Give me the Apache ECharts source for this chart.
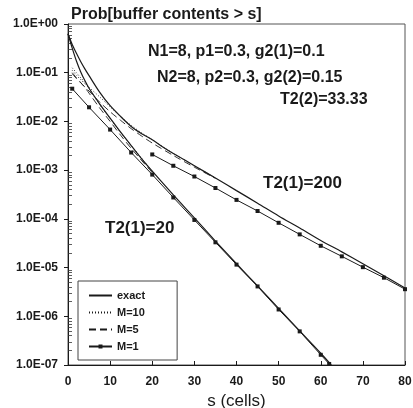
<!DOCTYPE html>
<html>
<head>
<meta charset="utf-8">
<script src="https://cdn.jsdelivr.net/npm/echarts@6/dist/echarts.min.js"></script>
<style>html,body{margin:0;padding:0;background:#fff;}#c{width:413px;height:408px;}</style>
</head>
<body>
<div id="c"></div>
<script>
// ---- data ----
var titleText = 'Prob[buffer contents > s]';
var xTicks = [0, 10, 20, 30, 40, 50, 60, 70, 80];
var yTicks = [1e0, 1e-1, 1e-2, 1e-3, 1e-4, 1e-5, 1e-6, 1e-7];
var yTickLabels = ['1.0E+00', '1.0E-01', '1.0E-02', '1.0E-03', '1.0E-04', '1.0E-05', '1.0E-06', '1.0E-07'];
var legendNames = ['exact', 'M=10', 'M=5', 'M=1'];

// T2(1)=200 group
var exactUx = [0, 1, 2, 3, 4, 5, 7.5, 10, 12.5, 15, 17.5, 20, 22.5, 25, 27.5, 30, 35, 40, 45, 50, 55, 60, 65, 70, 75, 80];
var exactUy = [0.63, 0.38, 0.25, 0.17, 0.12, 0.087, 0.040, 0.021, 0.0126, 0.0079, 0.0056, 0.0042, 0.0030, 0.0022, 0.00166, 0.00123, 6.9e-4, 3.8e-4, 2.1e-4, 1.15e-4, 6.5e-5, 3.6e-5, 2.1e-5, 1.2e-5, 6.8e-6, 3.8e-6];
var m10Ux = [1, 2, 3, 5, 7.5, 10, 12.5, 15, 17.5, 20, 25, 30, 35];
var m10Uy = [0.112, 0.089, 0.072, 0.050, 0.032, 0.020, 0.0126, 0.0083, 0.0058, 0.0042, 0.0022, 0.00123, 6.9e-4];
var m5Ux = [1, 2, 3, 5, 7.5, 10, 12.5, 15, 17.5, 20, 25, 30, 35];
var m5Uy = [0.095, 0.076, 0.062, 0.042, 0.025, 0.0158, 0.0105, 0.0071, 0.0050, 0.0036, 0.0020, 0.00115, 6.8e-4];
var m1Ux = [20, 25, 30, 35, 40, 45, 50, 55, 60, 65, 70, 75, 80];
var m1Uy = [2.1e-3, 1.23e-3, 7.4e-4, 4.3e-4, 2.45e-4, 1.45e-4, 8.3e-5, 4.8e-5, 2.8e-5, 1.7e-5, 1.02e-5, 6.2e-6, 3.6e-6];

// T2(1)=20 group
var exactLx = [0, 1, 2, 3, 4, 5, 7.5, 10, 12.5, 15, 17.5, 20, 25, 30, 35, 40, 45, 50, 55, 60, 62.5];
var exactLy = [0.63, 0.32, 0.174, 0.105, 0.069, 0.048, 0.023, 0.0117, 0.0060, 0.0032, 0.0017, 9.5e-4, 3.1e-4, 1.05e-4, 3.5e-5, 1.2e-5, 4.2e-6, 1.45e-6, 5.0e-7, 1.74e-7, 1.0e-7];
var m10Lx = [1, 2, 3, 4, 5, 7.5, 10, 12.5, 15, 20];
var m10Ly = [0.126, 0.1, 0.079, 0.063, 0.047, 0.0224, 0.0115, 0.0059, 0.0032, 9.5e-4];
var m5Lx = [1, 2, 3, 4, 5, 7.5, 10, 12.5, 15, 20];
var m5Ly = [0.1, 0.079, 0.063, 0.05, 0.038, 0.019, 0.01, 0.0052, 0.0028, 8.9e-4];
var m1Lx = [1, 5, 10, 15, 20, 25, 30, 35, 40, 45, 50, 55, 60, 62];
var m1Ly = [0.047, 0.0195, 0.0068, 0.0023, 8.1e-4, 2.75e-4, 9.5e-5, 3.3e-5, 1.15e-5, 4.1e-6, 1.38e-6, 4.9e-7, 1.62e-7, 1.05e-7];

var annotations = [
  {text: 'N1=8, p1=0.3, g2(1)=0.1', x: 148, y: 52, size: 16},
  {text: 'N2=8, p2=0.3, g2(2)=0.15', x: 157, y: 78, size: 16},
  {text: 'T2(2)=33.33', x: 280, y: 100, size: 16},
  {text: 'T2(1)=200', x: 263, y: 183, size: 17},
  {text: 'T2(1)=20', x: 105, y: 228, size: 17}
];

// ---- build ----
function pairs(xs, ys) { return xs.map(function (x, i) { return [x, ys[i]]; }); }
var minorTicks = [];
for (var e = -7; e < 0; e++) {
  for (var k = 2; k <= 9; k++) minorTicks.push(k * Math.pow(10, e));
}
var INK = '#1a1a1a';
var FONT = 'Liberation Sans, Arial, sans-serif';

function lineSeries(name, data, type, width, smooth, withSym) {
  return {
    name: name, type: 'line', data: data, smooth: smooth, xAxisIndex: 0, yAxisIndex: 0,
    symbol: withSym ? 'rect' : 'none', symbolSize: withSym ? 4 : 0, showSymbol: !!withSym,
    lineStyle: {color: INK, width: width, type: type},
    itemStyle: {color: INK},
    emphasis: {disabled: true}, silent: true, animation: false, clip: true
  };
}

var legendData = legendNames.map(function (n) {
  return n === 'M=1' ? {name: n} : {name: n, itemStyle: {opacity: 0}};
});

var chart = echarts.init(document.getElementById('c'), null, {renderer: 'canvas'});
chart.setOption({
  animation: false,
  backgroundColor: '#fff',
  title: {
    text: titleText, left: 66, top: 2,
    textStyle: {fontFamily: FONT, fontSize: 16, fontWeight: 'bold', color: INK}
  },
  grid: {left: 68, right: 8, top: 24, bottom: 43, outerBoundsMode: 'none', containLabel: false,
         show: true, borderColor: '#555', borderWidth: 1, backgroundColor: 'transparent'},
  legend: {
    data: legendData, orient: 'vertical', left: 78, top: 281,
    padding: [8, 32, 7, 10], itemGap: 4, itemWidth: 23, itemHeight: 5,
    borderColor: '#444', borderWidth: 1, backgroundColor: '#fff',
    textStyle: {fontFamily: FONT, fontSize: 11, fontWeight: 'bold', color: INK, lineHeight: 13},
    selectedMode: false
  },
  xAxis: {
    type: 'value', min: 0, max: 80, interval: 10,
    name: 's (cells)', nameLocation: 'middle', nameGap: 27,
    nameTextStyle: {fontFamily: FONT, fontSize: 17, color: INK},
    axisLine: {lineStyle: {color: INK, width: 1}},
    axisTick: {inside: true, length: 4, lineStyle: {color: INK}, customValues: xTicks},
    axisLabel: {fontFamily: FONT, fontSize: 12, fontWeight: 'bold', color: INK, margin: 11, customValues: xTicks},
    splitLine: {show: false}
  },
  yAxis: [{
    type: 'log', logBase: 10, min: 1e-7, max: 1,
    axisLine: {show: true, lineStyle: {color: INK, width: 1}},
    axisTick: {show: true, inside: false, length: 4, lineStyle: {color: INK}, customValues: yTicks},
    axisLabel: {
      fontFamily: FONT, fontSize: 12, fontWeight: 'bold', color: INK, margin: 10, customValues: yTicks,
      formatter: function (v) {
        var idx = yTicks.findIndex(function (t) { return Math.abs(Math.log10(t) - Math.log10(v)) < 1e-6; });
        return idx >= 0 ? yTickLabels[idx] : '';
      }
    },
    splitLine: {show: false}
  }, {
    type: 'log', logBase: 10, min: 1e-7, max: 1, position: 'left', offset: 0,
    axisLine: {show: false},
    axisTick: {show: true, inside: true, length: 4, lineStyle: {color: '#333', width: 0.8}, customValues: minorTicks},
    axisLabel: {show: false, customValues: minorTicks},
    splitLine: {show: false}
  }],
  series: [
    lineSeries('exact', pairs(exactUx, exactUy), 'solid', 1.2, 0.3, false),
    lineSeries('M=10', pairs(m10Ux, m10Uy), [1, 2], 0.9, 0.3, false),
    lineSeries('M=5', pairs(m5Ux, m5Uy), [7, 4], 0.9, 0.3, false),
    lineSeries('M=1', pairs(m1Ux, m1Uy), 'solid', 1, false, true),
    lineSeries('exact', pairs(exactLx, exactLy), 'solid', 1.2, 0.3, false),
    lineSeries('M=10', pairs(m10Lx, m10Ly), [1, 2], 0.9, 0.3, false),
    lineSeries('M=5', pairs(m5Lx, m5Ly), [7, 4], 0.9, 0.3, false),
    lineSeries('M=1', pairs(m1Lx, m1Ly), 'solid', 1, false, true)
  ],
  graphic: annotations.map(function (a) {
    return {
      type: 'text', x: a.x, y: a.y, silent: true,
      style: {text: a.text, fill: INK, font: 'bold ' + a.size + 'px ' + FONT, textVerticalAlign: 'middle', textAlign: 'left'}
    };
  })
});
</script>
</body>
</html>
